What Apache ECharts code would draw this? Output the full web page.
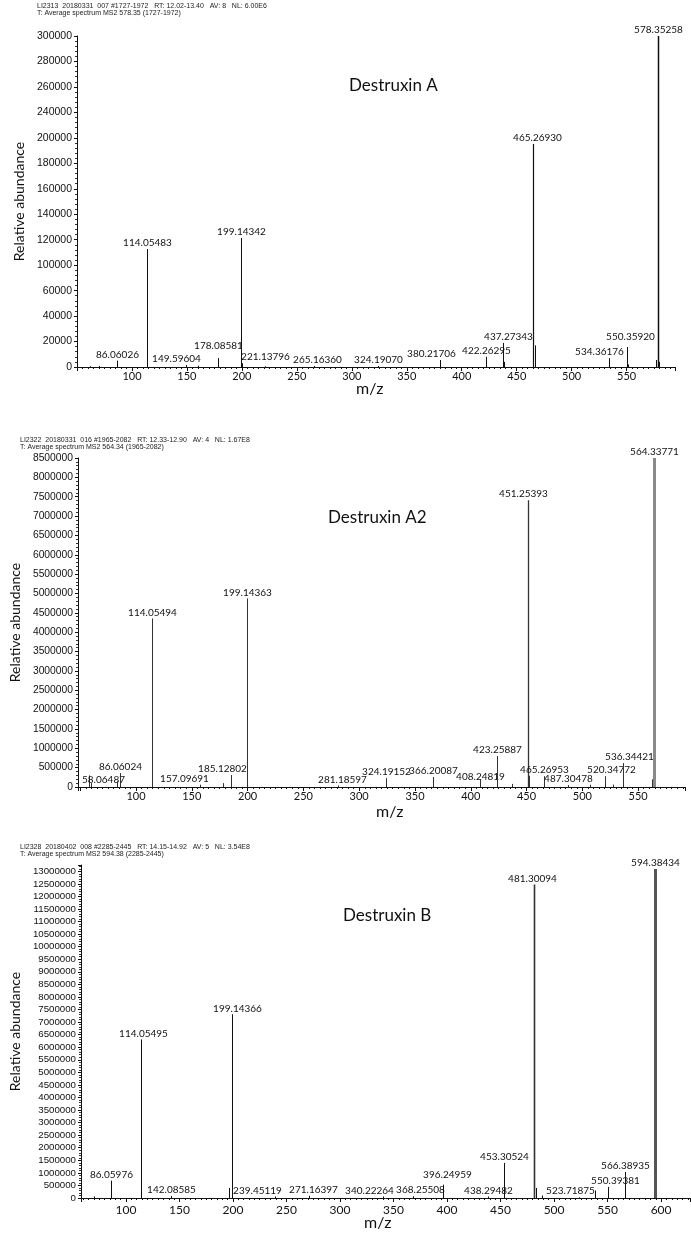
<!DOCTYPE html>
<html><head><meta charset="utf-8">
<script src="https://cdn.jsdelivr.net/npm/echarts@6/dist/echarts.min.js"></script>
<style>html,body{margin:0;padding:0;background:#fff}#c{width:691px;height:1240px}</style>
</head><body><div id="c"></div>
<script>
// ---------------- DATA ----------------
// Panel 1 : Destruxin A
const headerA = 'LI2313  20180331  007 #1727-1972   RT: 12.02-13.40   AV: 8   NL: 6.00E6\nT: Average spectrum MS2 578.35 (1727-1972)';
const nameA = 'Destruxin A';
const mzA  = [62.1, 70.1, 86.06026, 114.05483, 149.59604, 160.1, 178.08581, 199.14342, 200.15, 221.13796, 265.16360, 324.19070, 380.21706, 422.26295, 437.27343, 438.28, 465.26930, 466.27, 534.36176, 550.35920, 551.36, 576.35, 578.35258, 579.36];
const intA = [600, 800, 5000, 92700, 1500, 1000, 7000, 101300, 3000, 500, 800, 800, 5500, 8000, 18900, 4000, 175200, 17000, 7000, 15700, 2000, 5500, 260000, 4000];
const showA = [0,0,1,1,1,0,1,1,0,1,1,1,1,1,1,0,1,0,1,1,0,0,1,0];
const yTickLabelsA = ['0','20000','40000','60000','100000','120000','140000','160000','180000','200000','240000','260000','280000','300000'];

// Panel 2 : Destruxin A2
const headerA2 = 'LI2322  20180331  016 #1965-2082   RT: 12.33-12.90   AV: 4   NL: 1.67E8\nT: Average spectrum MS2 564.34 (1965-2082)';
const nameA2 = 'Destruxin A2';
const mzA2  = [58.06487, 60.1, 83.1, 86.06024, 114.05494, 157.09691, 178.1, 185.12802, 199.14363, 281.18597, 324.19152, 366.20087, 408.24819, 423.25887, 437.3, 451.25393, 452.26, 465.26953, 487.30478, 507.3, 520.34772, 527.3, 536.34421, 562.3, 564.33771];
const intA2 = [300000, 100000, 150000, 360000, 4353000, 60000, 100000, 310000, 4872000, 40000, 230000, 260000, 200000, 800000, 80000, 7411000, 290000, 280000, 50000, 60000, 280000, 60000, 620000, 200000, 8500000];
const showA2 = [1,0,0,1,1,1,0,1,1,1,1,1,1,1,0,1,0,1,1,0,1,0,1,0,1];

// Panel 3 : Destruxin B
const headerB = 'LI2328  20180402  008 #2285-2445   RT: 14.15-14.92   AV: 5   NL: 3.54E8\nT: Average spectrum MS2 594.38 (2285-2445)';
const nameB = 'Destruxin B';
const mzB  = [70.1, 86.05976, 114.05495, 142.08585, 196.1, 199.14366, 239.45119, 271.16397, 340.22264, 368.25508, 396.24959, 438.29482, 453.30524, 481.30094, 483.3, 488.3, 523.71875, 538.3, 550.39381, 566.38935, 594.38434];
const intB = [60000, 690000, 6310000, 80000, 400000, 7310000, 60000, 90000, 60000, 70000, 530000, 60000, 1395000, 12470000, 400000, 100000, 30000, 300000, 440000, 1037000, 13090000];
const showB = [0,1,1,1,0,1,1,1,1,1,1,1,1,1,0,0,1,0,1,1,1];

const xTitle = 'm/z';
const yTitle = 'Relative abundance';

// ---------------- LAYOUT TWEAKS ----------------
const shiftA  = {'149.59604':[-10,0],'178.08581':[0,-6],'221.13796':[0,-4],'265.16360':[3,0],'380.21706':[-9,0],'437.27343':[5,0],'465.26930':[4,0],'534.36176':[-10,0],'550.35920':[3,-4]};
const shiftA2 = {'58.06487':[14,10],'157.09691':[-16,0],'185.12802':[-9,0],'281.18597':[4,0],'408.24819':[0,4],'451.25393':[-5,0],'520.34772':[6,0],'536.34421':[6,0]};
const shiftB  = {'114.05495':[2,0],'199.14366':[5,0],'239.45119':[-18,0],'271.16397':[4,0],'340.22264':[-14,0],'368.25508':[7,0],'396.24959':[4,-4],'481.30094':[-2,0],'523.71875':[-9,0],'550.39381':[7,0]};
const styleA  = {def:{c:'#111',w:1}, '578.35258':{c:'#111',w:1.5}, '465.26930':{c:'#111',w:1.2}};
const styleA2 = {def:{c:'#333',w:1}, '564.33771':{c:'#8a8a8a',w:3}, '451.25393':{c:'#333',w:1.3}};
const styleB  = {def:{c:'#111',w:1}, '594.38434':{c:'#555',w:3}, '481.30094':{c:'#333',w:1.6}};

function stickRenderer(mz, show, shifts, styles) {
  return function (params, api) {
    const i = params.dataIndex;
    const top = api.coord([api.value(0), api.value(1)]);
    const base = api.coord([api.value(0), 0]);
    const key = mz[i].toFixed(5);
    const st = styles[key] || styles.def;
    const x = Math.round(top[0]) + 0.5;
    const kids = [{type:'line', shape:{x1:x, y1:base[1], x2:x, y2:top[1]}, style:{stroke:st.c, lineWidth:st.w}}];
    if (show[i]) {
      const sh = shifts[key] || [0,0];
      kids.push({type:'text', style:{text:key, x:x + sh[0], y:top[1] - 1 + sh[1], align:'center', verticalAlign:'bottom',
        fontSize:10, fontFamily:'Lato', fill:'#111'}});
    }
    return {type:'group', children:kids};
  };
}

const grids = [
  {left:77, top:36, width:598, height:331},
  {left:68, top:458, width:617, height:329},
  {left:73, top:865, width:617, height:333}
];

function xAxisCfg(idx, min, max, fs, margin) {
  return {type:'value', gridIndex:idx, min:min, max:max, splitNumber:11,
    axisLine:{show:true, onZero:false, lineStyle:{color:'#111', width:1}},
    axisTick:{show:true, length:4, lineStyle:{color:'#111'}},
    minorTick:{show:true, splitNumber:10, length:2, lineStyle:{color:'#111'}},
    splitLine:{show:false}, minorSplitLine:{show:false},
    axisLabel:{showMinLabel:false, showMaxLabel:false, fontSize:fs, fontFamily:'Lato', color:'#111', margin:margin,
      formatter: v => (v < 100 ? '' : String(v))}};
}
function yAxisCfg(idx, max, interval, fs, gap, fmt) {
  return {type:'value', gridIndex:idx, min:0, max:max, interval:interval,
    name:yTitle, nameLocation:'middle', nameGap:gap, nameRotate:90,
    nameTextStyle:{fontSize:14, fontFamily:'Lato', color:'#111'},
    axisLine:{show:true, lineStyle:{color:'#111', width:1}},
    axisTick:{show:true, length:3, lineStyle:{color:'#111'}},
    minorTick:{show:true, splitNumber:5, length:2, lineStyle:{color:'#333'}},
    splitLine:{show:false}, minorSplitLine:{show:false},
    axisLabel:{showMaxLabel: fmt ? true : (max % interval === 0), fontSize:fs, fontFamily:'Liberation Sans', color:'#111', margin:5,
      formatter: fmt || (v => String(v))}};
}

const hdrStyle = {fontSize:7, lineHeight:7, fontFamily:'Liberation Sans', fontWeight:'normal', color:'#222'};
const nmStyle = {fontSize:17, fontFamily:'Lato', fontWeight:'normal', color:'#111'};
const mzStyle = {fontSize:16, fontFamily:'Lato', fontWeight:'normal', color:'#111'};

const option = {
  animation:false,
  backgroundColor:'#fff',
  title:[
    {text:headerA, left:37, top:3, padding:0, textStyle:hdrStyle},
    {text:headerA2, left:20, top:437, padding:0, textStyle:hdrStyle},
    {text:headerB, left:20, top:844, padding:0, textStyle:hdrStyle},
    {text:nameA, left:349, top:77, padding:0, textStyle:nmStyle},
    {text:nameA2, left:328, top:509, padding:0, textStyle:nmStyle},
    {text:nameB, left:343, top:907, padding:0, textStyle:nmStyle},
    {text:xTitle, left:356, top:381, padding:0, textStyle:mzStyle},
    {text:xTitle, left:376, top:804, padding:0, textStyle:mzStyle},
    {text:xTitle, left:364, top:1215, padding:0, textStyle:mzStyle}
  ],
  grid:grids,
  xAxis:[
    xAxisCfg(0, 50, 594, 11, 4),
    xAxisCfg(1, 48, 592, 11, 4),
    xAxisCfg(2, 58, 627, 12, 6)
  ],
  yAxis:[
    yAxisCfg(0, 260000, 20000, 10.5, 47, v => yTickLabelsA[Math.round(v / 20000)]),
    yAxisCfg(1, 8500000, 500000, 10.3, 49),
    yAxisCfg(2, 13250000, 500000, 9.7, 55)
  ],
  series:[
    {type:'custom', xAxisIndex:0, yAxisIndex:0, data:mzA.map((m,i)=>[m, intA[i]]), encode:{x:0,y:1},
      renderItem:stickRenderer(mzA, showA, shiftA, styleA), clip:false},
    {type:'custom', xAxisIndex:1, yAxisIndex:1, data:mzA2.map((m,i)=>[m, intA2[i]]), encode:{x:0,y:1},
      renderItem:stickRenderer(mzA2, showA2, shiftA2, styleA2), clip:false},
    {type:'custom', xAxisIndex:2, yAxisIndex:2, data:mzB.map((m,i)=>[m, intB[i]]), encode:{x:0,y:1},
      renderItem:stickRenderer(mzB, showB, shiftB, styleB), clip:false}
  ]
};
const chart = echarts.init(document.getElementById('c'), null, {renderer:'canvas'});
chart.setOption(option);
</script>
</body></html>
